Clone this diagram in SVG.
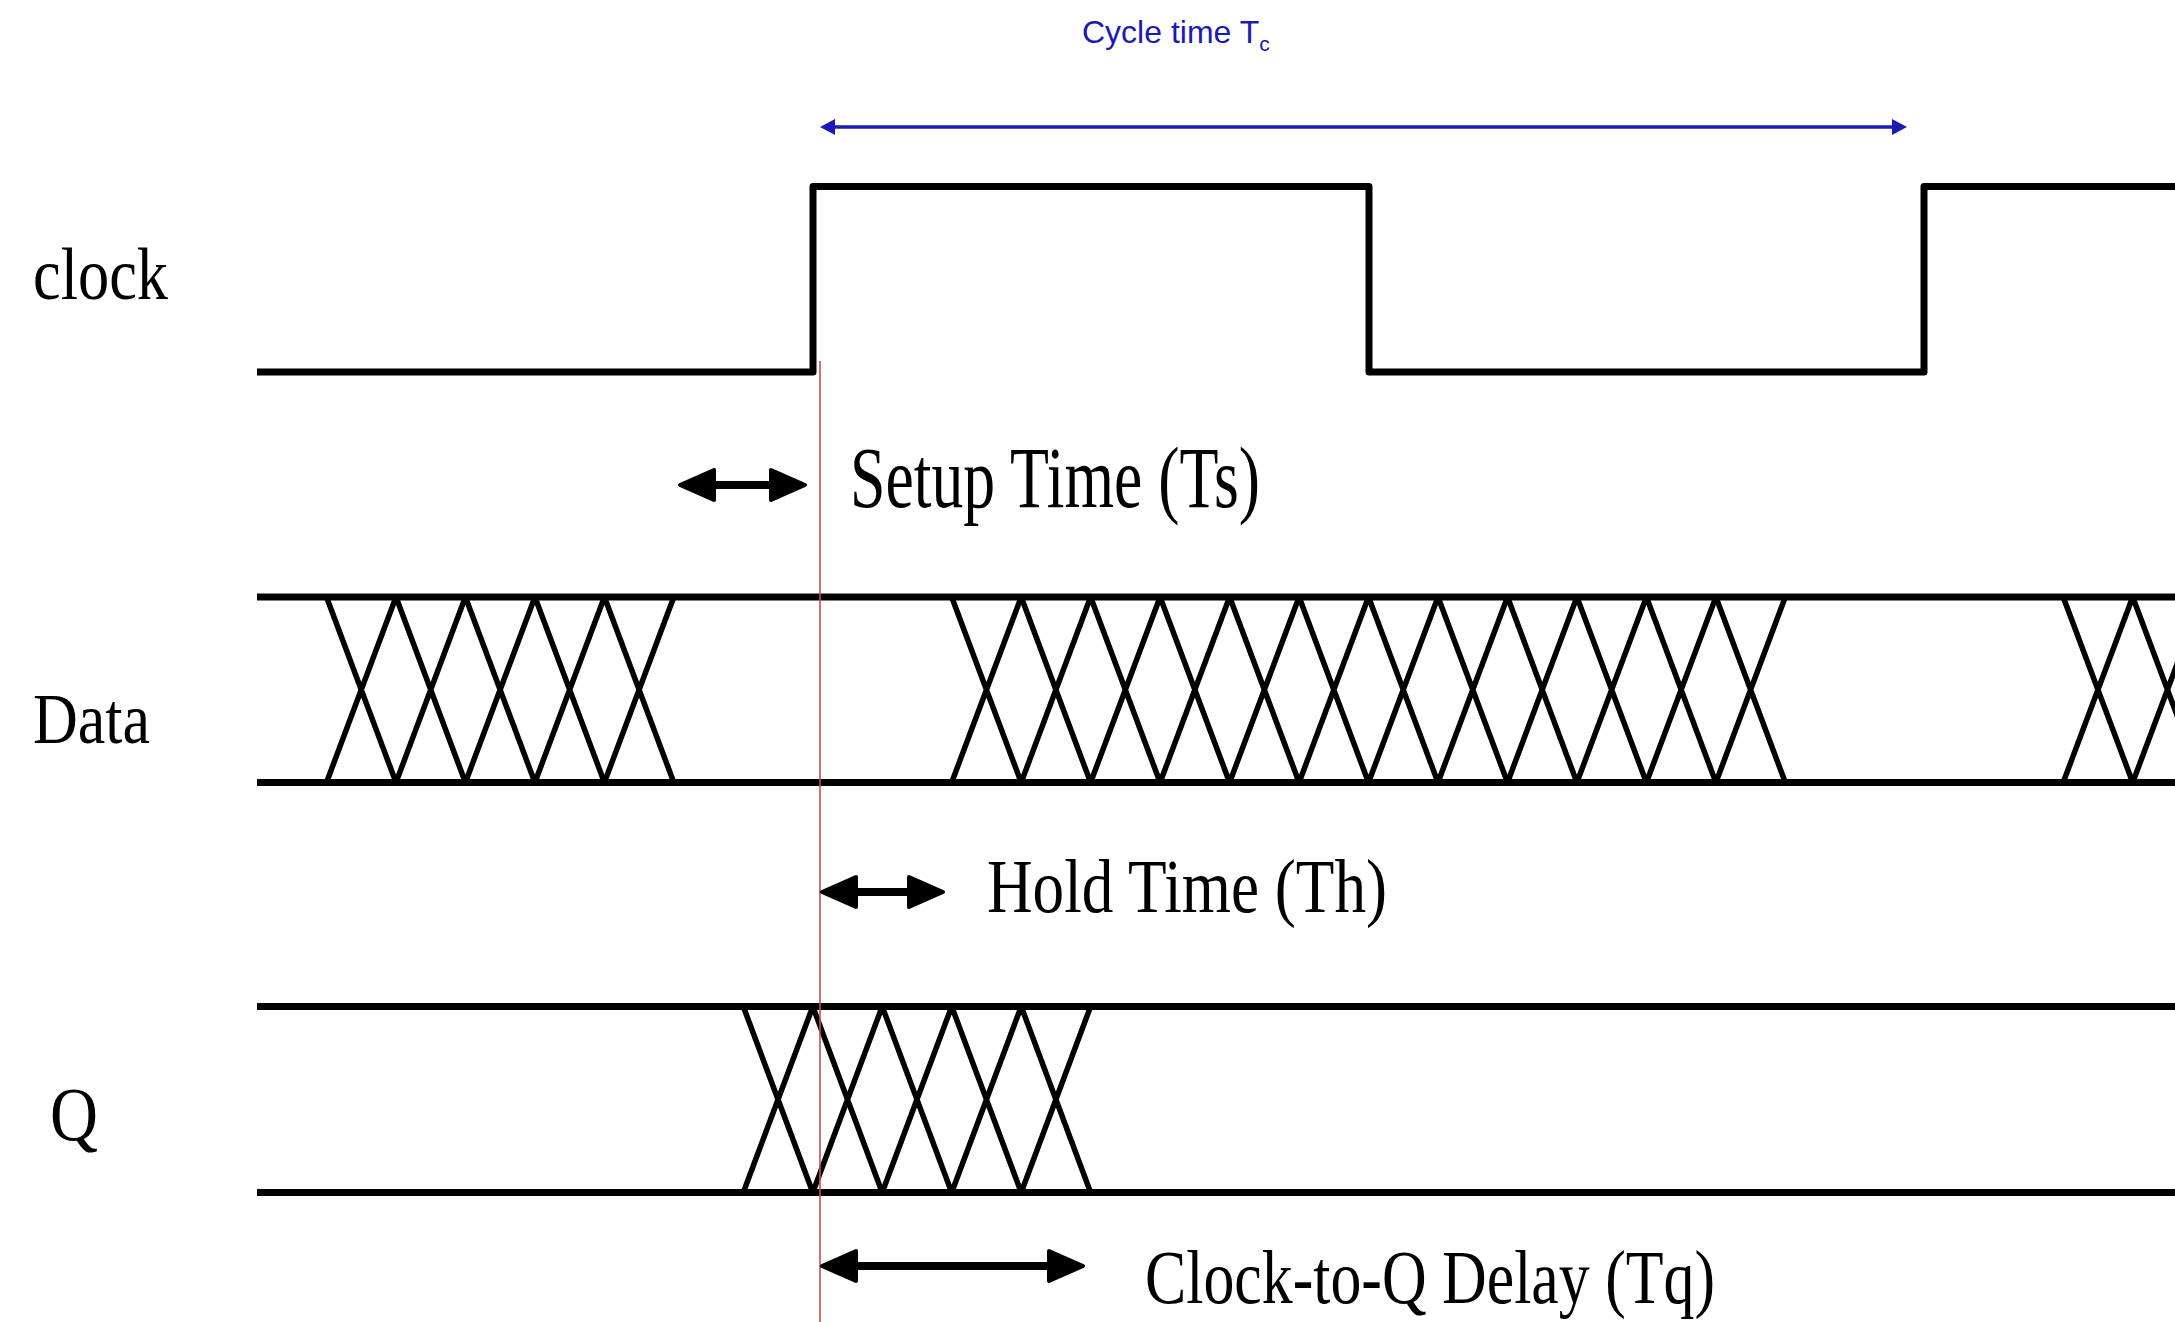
<svg xmlns="http://www.w3.org/2000/svg" width="2175" height="1322" viewBox="0 0 2175 1322">
<style>
.wave{fill:none;stroke:#000;stroke-width:7;stroke-linejoin:round}
.cross{fill:none;stroke:#000;stroke-width:5.5}
.lbl{font-family:"Liberation Serif","Times New Roman",serif;fill:#000}
.blue{font-family:"Liberation Sans",Arial,sans-serif;fill:#1a1ab4}
.shaft{stroke:#000;stroke-width:8;fill:none}
</style>
<defs>
<marker id="bh" markerUnits="userSpaceOnUse" viewBox="0 0 42 36" markerWidth="42" markerHeight="36" refX="19" refY="18" orient="auto-start-reverse">
<path d="M3,3 L37,18 L3,33 Z" fill="#000" stroke="#000" stroke-width="4" stroke-linejoin="round"/>
</marker>
<marker id="bl" markerUnits="userSpaceOnUse" viewBox="0 0 16 16" markerWidth="16" markerHeight="16" refX="9" refY="8" orient="auto-start-reverse">
<path d="M0,0 L15,8 L0,16 Z" fill="#1a1ab4"/>
</marker>
</defs>
<rect width="2175" height="1322" fill="#fff"/>

<g id="clock">
<path class="wave" d="M257,372 H813 V186.5 H1369 V372 H1924 V186.5 H2182"/>
<text class="lbl" x="33" y="299" font-size="74" textLength="135" lengthAdjust="spacingAndGlyphs">clock</text>
</g>

<g id="data">
<path class="wave" d="M257,597 H2182 M257,782.5 H2182"/>
<path class="cross" d="M326.5,597 L396,782.5 M396,597 L326.5,782.5 M396,597 L465.4,782.5 M465.4,597 L396,782.5 M465.4,597 L534.9,782.5 M534.9,597 L465.4,782.5 M534.9,597 L604.4,782.5 M604.4,597 L534.9,782.5 M604.4,597 L673.8,782.5 M673.8,597 L604.4,782.5
M951.7,597 L1021.2,782.5 M1021.2,597 L951.7,782.5 M1021.2,597 L1090.6,782.5 M1090.6,597 L1021.2,782.5 M1090.6,597 L1160.1,782.5 M1160.1,597 L1090.6,782.5 M1160.1,597 L1229.6,782.5 M1229.6,597 L1160.1,782.5 M1229.6,597 L1299.1,782.5 M1299.1,597 L1229.6,782.5 M1299.1,597 L1368.5,782.5 M1368.5,597 L1299.1,782.5 M1368.5,597 L1438,782.5 M1438,597 L1368.5,782.5 M1438,597 L1507.5,782.5 M1507.5,597 L1438,782.5 M1507.5,597 L1576.9,782.5 M1576.9,597 L1507.5,782.5 M1576.9,597 L1646.4,782.5 M1646.4,597 L1576.9,782.5 M1646.4,597 L1715.9,782.5 M1715.9,597 L1646.4,782.5 M1715.9,597 L1785.3,782.5 M1785.3,597 L1715.9,782.5
M2063.2,597 L2132.7,782.5 M2132.7,597 L2063.2,782.5 M2132.7,597 L2202.2,782.5 M2202.2,597 L2132.7,782.5"/>
<text class="lbl" x="33" y="743" font-size="71" textLength="117" lengthAdjust="spacingAndGlyphs">Data</text>
</g>

<g id="q">
<path class="wave" d="M257,1006.5 H2182 M257,1192.5 H2182"/>
<path class="cross" d="M743.3,1006.5 L812.8,1192.5 M812.8,1006.5 L743.3,1192.5 M812.8,1006.5 L882.2,1192.5 M882.2,1006.5 L812.8,1192.5 M882.2,1006.5 L951.7,1192.5 M951.7,1006.5 L882.2,1192.5 M951.7,1006.5 L1021.2,1192.5 M1021.2,1006.5 L951.7,1192.5 M1021.2,1006.5 L1090.6,1192.5 M1090.6,1006.5 L1021.2,1192.5"/>
<text class="lbl" x="50" y="1140" font-size="76" textLength="48" lengthAdjust="spacingAndGlyphs">Q</text>
</g>

<g id="edge-marker">
<line x1="820" y1="361" x2="820" y2="1322" stroke="#c0504d" stroke-width="1.6"/>
</g>

<g id="connectors">
<line x1="826" y1="127" x2="1901" y2="127" stroke="#1a1ab4" stroke-width="3.5" marker-start="url(#bl)" marker-end="url(#bl)"/>
<line class="shaft" x1="698" y1="485" x2="787" y2="485" marker-start="url(#bh)" marker-end="url(#bh)"/>
<line class="shaft" x1="840" y1="892" x2="925" y2="892" marker-start="url(#bh)" marker-end="url(#bh)"/>
<line class="shaft" x1="840" y1="1266" x2="1065" y2="1266" marker-start="url(#bh)" marker-end="url(#bh)"/>
</g>

<g id="labels">
<text class="blue" x="1082" y="43" font-size="32">Cycle time T<tspan font-size="21" dy="8">c</tspan></text>
<text class="lbl" x="850" y="507" font-size="86" textLength="410" lengthAdjust="spacingAndGlyphs">Setup Time (Ts)</text>
<text class="lbl" x="987" y="912" font-size="77" textLength="400" lengthAdjust="spacingAndGlyphs">Hold Time (Th)</text>
<text class="lbl" x="1145" y="1303" font-size="77" textLength="570" lengthAdjust="spacingAndGlyphs">Clock-to-Q Delay (Tq)</text>
</g>
</svg>
